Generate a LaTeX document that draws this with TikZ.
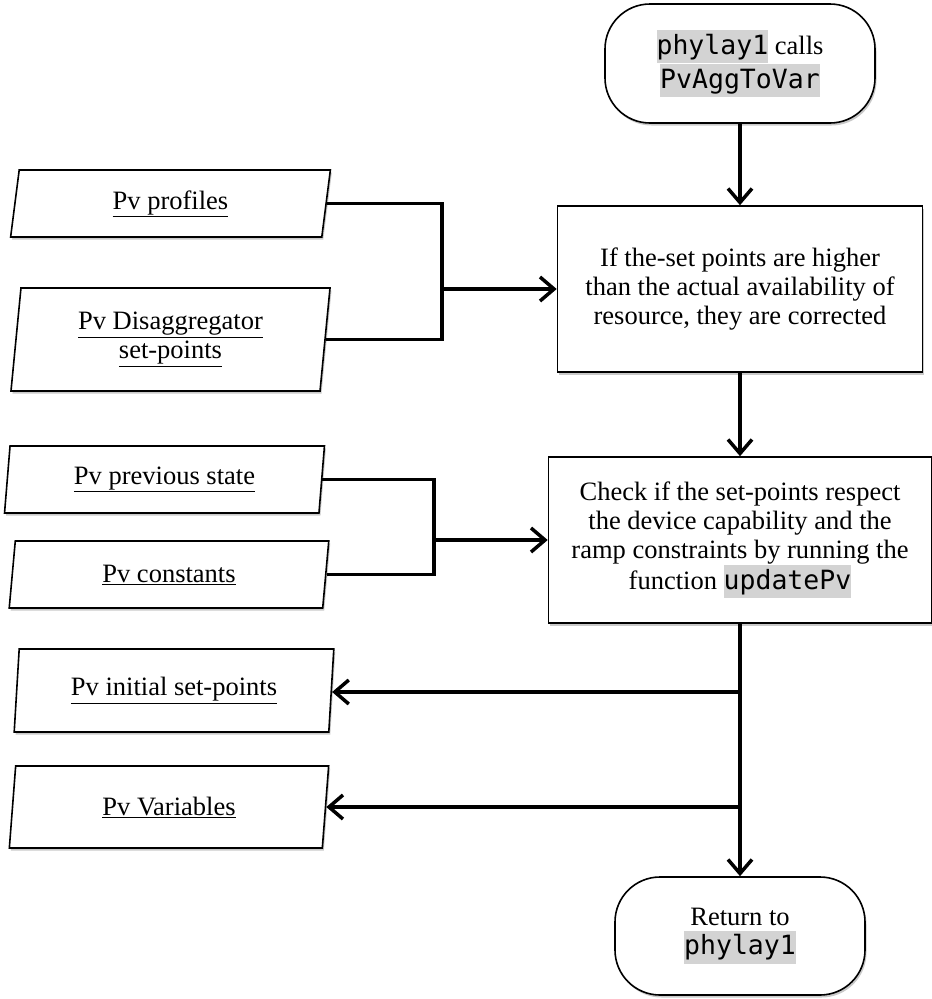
\documentclass[tikz,border=0pt]{standalone}
\usepackage{fontspec}
\setmainfont{Liberation Serif}
\setmonofont{DejaVu Sans Mono}
\usetikzlibrary{shapes.geometric, arrows.meta, shadows}
\definecolor{codegray}{RGB}{211,211,211}
\newcommand{\codebox}[1]{{\setlength{\fboxsep}{0pt}\colorbox{codegray}{\rule[-9pt]{0pt}{33pt}\ttfamily #1}}}
\tikzset{
	shade/.style={drop shadow={shadow xshift=1.5pt, shadow yshift=-2.5pt, opacity=0.3, fill=black!70}},
	terminal/.style={rectangle, rounded corners=45pt, draw, line width=1.6pt, fill=white, shade,
		minimum width=270pt, minimum height=119pt, align=center},
	process/.style={rectangle, draw, line width=1.6pt, fill=white, shade,
		minimum height=166pt, align=center},
	dataio/.style={trapezium, trapezium left angle=84, trapezium right angle=96, trapezium stretches=true,
		draw, line width=1.6pt, fill=white, shade, minimum width=320pt, minimum height=67pt, align=center},
	link/.style={line width=3.5pt},
	flow/.style={link, -{Straight Barb[length=14pt, width=24pt]}}
}
\begin{document}
\begin{tikzpicture}[x=1pt, y=-1pt, every node/.style={font=\fontsize{26.5}{29}\selectfont}]
	\useasboundingbox (0,0) rectangle (932,999);
	% ================= 主流程 =================
	% 1. 起止框与处理框
	\node[terminal] (start) at (740,63.5) {\codebox{phylay1} calls\\\codebox{PvAggToVar}};
	\node[process, minimum width=365pt] (corr) at (740,289)
		{If the-set points are higher\\than the actual availability of\\resource, they are corrected};
	\node[process, minimum width=383pt] (check) at (740,540)
		{Check if the set-points respect\\the device capability and the\\ramp constraints by running the\\function \codebox{updatePv}};
	\node[terminal, minimum width=250pt, minimum height=118pt] (ret) at (740,936) {Return to\\\codebox{phylay1}};
	
	% 2. 左侧输入/输出数据框
	\node[dataio] (prof) at (170.5,203.5) {\underline{Pv profiles}};
	\node[dataio, minimum height=103pt] (disag) at (170.5,339.5) {\underline{Pv Disaggregator}\\\underline{set-points}};
	\node[dataio] (prev) at (164.5,479.5) {\underline{Pv previous state}};
	\node[dataio] (const) at (169,574.5) {\underline{Pv constants}};
	\node[dataio, minimum height=83pt] (init) at (174,690.5) {\underline{Pv initial set-points}};
	\node[dataio, minimum height=82pt] (vars) at (169,807) {\underline{Pv Variables}};
	
	% 3. 汇合点
	\coordinate (jA) at (442,289);
	\coordinate (jB) at (434,540);
	\coordinate (jC) at (740,692);
	\coordinate (jD) at (740,807);
	
	% 4. 连线
	\draw[flow] (start) -- (corr);
	\draw[flow] (corr) -- (check);
	\draw[flow] (check) -- (ret);
	\draw[link] (prof.east) -| (jA) |- (disag.east);
	\draw[flow] (jA) -- (jA -| corr.west);
	\draw[link] (prev.east) -| (jB) |- (const.east);
	\draw[flow] (jB) -- (jB -| check.west);
	\draw[flow] (jC) -- (jC -| init.east);
	\draw[flow] (jD) -- (jD -| vars.east);
\end{tikzpicture}
\end{document}
